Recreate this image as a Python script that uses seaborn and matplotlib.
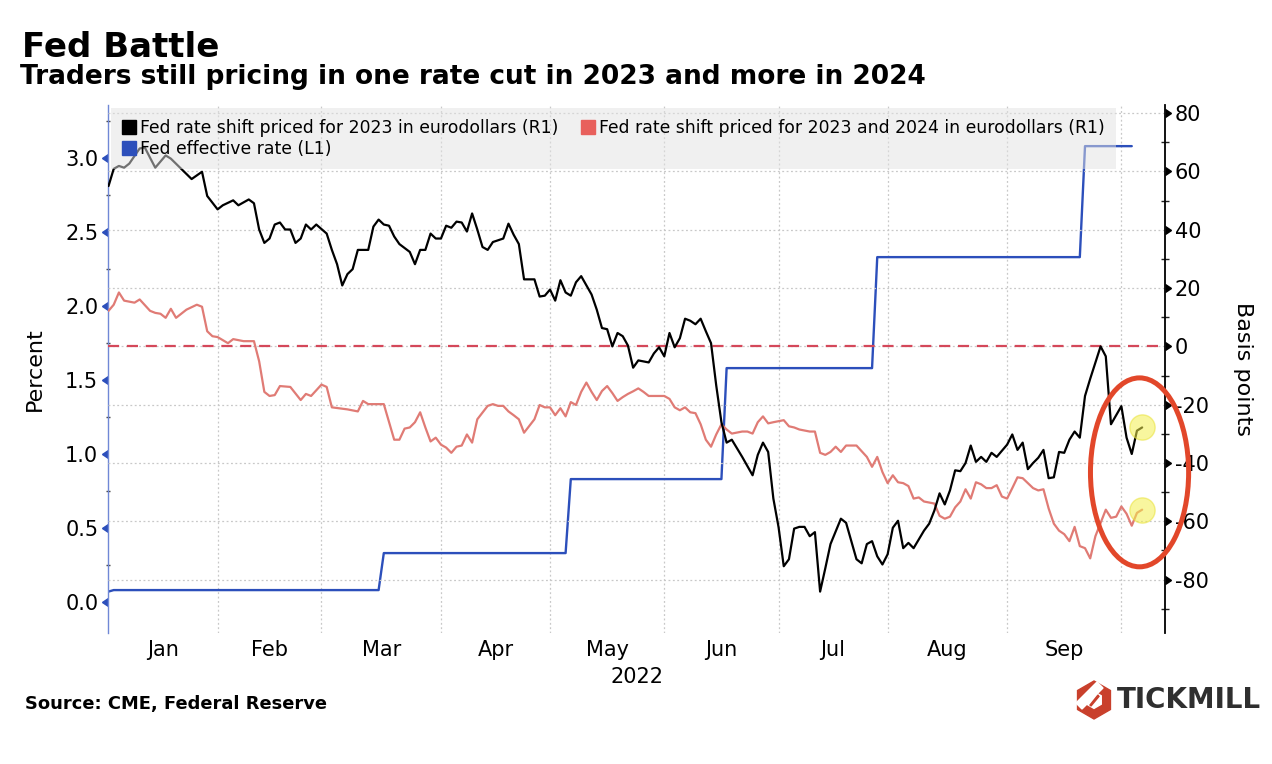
import numpy as np
import pandas as pd
import matplotlib
matplotlib.use("Agg")
import matplotlib.pyplot as plt
import matplotlib.markers as mmarkers
import seaborn as sns
from matplotlib.patches import Ellipse, RegularPolygon, Polygon
from matplotlib.lines import Line2D

# ---------------- data ----------------
START = "2022-01-03"  # first trading day shown; x = trading-day offset from START

black_day = [0, 1, 2, 3, 4, 6, 7, 8, 9, 11, 12, 14, 16, 18, 19, 21, 22, 24, 25, 27, 28, 29, 30, 31, 32,
             33, 34, 35, 36, 37, 38, 39, 40, 42, 43, 44, 45, 46, 47, 48, 50, 51, 52, 53, 54, 55, 56, 58,
             59, 60, 61, 62, 63, 64, 65, 66, 67, 68, 69, 70, 71, 72, 73, 74, 76, 77, 78, 79, 80, 82, 83,
             84, 85, 86, 87, 88, 89, 90, 91, 93, 94, 95, 96, 97, 98, 99, 100, 101, 102, 104, 105, 106,
             107, 108, 109, 110, 111, 112, 113, 114, 115, 116, 117, 118, 119, 120, 122, 124, 125, 126,
             127, 128, 129, 130, 131, 132, 133, 134, 135, 136, 137, 138, 139, 141, 142, 143, 144, 145,
             146, 147, 148, 149, 150, 151, 152, 153, 154, 155, 157, 158, 159, 160, 161, 162, 163, 164,
             165, 166, 167, 168, 169, 170, 171, 172, 173, 174, 175, 176, 177, 178, 179, 180, 181, 182,
             183, 184, 185, 186, 187, 188, 189, 191, 192, 193, 194, 195, 196, 197, 198, 199]
black_bp = [55.0, 60.9, 61.9, 61.3, 62.7, 67.9, 68.2, 64.7, 61.3, 65.5, 64.4, 60.9, 57.4, 59.9, 51.6,
            47.0, 48.4, 50.1, 48.4, 50.4, 49.1, 40.1, 35.5, 37.0, 41.8, 42.5, 40.1, 40.1, 35.5, 37.0,
            41.8, 40.1, 41.8, 38.7, 33.1, 28.2, 20.9, 24.8, 26.5, 33.1, 33.1, 41.1, 43.5, 41.8, 41.4,
            37.7, 35.1, 32.4, 28.2, 33.1, 33.1, 38.7, 37.0, 37.0, 41.4, 40.7, 42.8, 42.5, 39.4, 45.6,
            40.1, 34.1, 33.1, 35.8, 37.0, 42.1, 38.3, 35.1, 23.0, 23.0, 17.1, 17.4, 19.5, 15.7, 22.7,
            18.5, 17.4, 22.0, 24.1, 17.8, 12.6, 6.3, 5.9, 0.0, 4.6, 3.5, 0.3, -7.3, -4.8, -5.5, -2.4,
            -0.3, -3.4, 4.6, -0.3, 2.8, 9.5, 8.8, 7.6, 9.5, 5.2, 1.1, -13.4, -26.0, -33.0, -32.0,
            -37.9, -44.2, -37.2, -33.0, -36.2, -52.2, -62.0, -75.4, -73.0, -62.5, -61.9, -61.9, -65.1,
            -63.7, -84.1, -76.1, -67.8, -59.1, -60.5, -66.8, -73.0, -74.4, -67.8, -66.8, -72.0, -74.8,
            -71.3, -62.2, -59.8, -69.2, -67.4, -69.2, -63.2, -60.8, -56.3, -50.4, -54.2, -49.4, -42.5,
            -42.8, -40.0, -34.0, -39.6, -37.9, -39.6, -36.5, -37.9, -35.8, -33.7, -30.2, -35.5, -33.0,
            -42.1, -40.0, -38.2, -35.5, -45.2, -44.9, -36.2, -36.5, -32.0, -29.2, -31.3, -17.0, -11.1,
            0.0, -3.4, -26.7, -23.6, -20.5, -31.3, -36.9, -28.9, -27.8]

red_day = [0, 1, 2, 3, 5, 6, 8, 9, 10, 11, 12, 13, 15, 17, 18, 19, 20, 21, 23, 24, 26, 28, 29, 30, 31,
           32, 33, 35, 37, 38, 39, 41, 42, 43, 46, 48, 49, 50, 52, 53, 55, 56, 57, 58, 59, 60, 61, 62,
           63, 64, 65, 66, 67, 68, 69, 70, 71, 73, 74, 75, 76, 77, 78, 79, 80, 82, 83, 84, 85, 86, 87,
           88, 89, 90, 91, 92, 93, 94, 95, 96, 97, 98, 99, 100, 101, 102, 103, 104, 107, 108, 109, 110,
           111, 112, 113, 114, 115, 116, 117, 118, 119, 120, 122, 123, 124, 125, 126, 127, 128, 130,
           131, 132, 133, 135, 136, 137, 138, 139, 140, 141, 142, 144, 146, 147, 148, 149, 150, 151,
           152, 153, 154, 155, 156, 157, 159, 160, 161, 162, 163, 164, 165, 166, 167, 168, 169, 170,
           171, 172, 173, 174, 175, 176, 177, 178, 179, 180, 181, 182, 183, 184, 185, 186, 187, 188,
           189, 190, 192, 193, 194, 195, 196, 197, 198, 199]
red_bp = [12.2, 14.3, 18.5, 15.7, 15.0, 16.1, 12.2, 11.5, 11.2, 9.8, 12.9, 9.8, 12.6, 14.3, 13.6, 5.2,
          3.5, 3.2, 1.1, 2.5, 1.8, 1.8, -5.1, -15.6, -17.0, -16.7, -13.6, -13.9, -18.4, -16.3, -17.0,
          -13.1, -13.9, -20.9, -21.6, -22.3, -18.7, -19.8, -19.8, -19.8, -32.0, -32.0, -28.2, -27.8,
          -26.0, -22.6, -27.8, -32.6, -31.3, -33.7, -34.7, -36.5, -34.4, -34.0, -30.2, -33.0, -25.0,
          -20.4, -19.8, -20.4, -20.4, -22.3, -23.6, -25.0, -29.6, -25.0, -20.1, -20.9, -20.9, -23.6,
          -21.2, -24.0, -19.1, -20.1, -15.6, -12.4, -15.6, -18.4, -15.3, -13.6, -16.0, -18.7, -17.4,
          -16.3, -15.4, -14.4, -15.6, -17.0, -17.0, -18.0, -20.9, -21.9, -20.9, -22.6, -22.9, -26.7,
          -32.0, -34.4, -30.2, -26.7, -28.5, -29.9, -29.2, -29.2, -29.9, -26.0, -24.0, -26.4, -26.0,
          -25.3, -27.4, -27.8, -28.5, -29.2, -29.2, -36.5, -37.2, -36.2, -34.4, -36.2, -34.0, -34.0,
          -37.9, -41.3, -37.9, -43.1, -46.9, -44.2, -46.6, -46.9, -47.9, -52.2, -51.8, -53.2, -53.9,
          -58.1, -59.1, -58.4, -55.2, -53.2, -49.0, -52.2, -46.6, -47.3, -48.6, -48.6, -47.6, -51.5,
          -52.2, -48.6, -44.9, -45.2, -46.9, -48.6, -49.4, -49.0, -55.6, -60.8, -63.2, -64.4, -66.8,
          -61.9, -68.5, -69.2, -72.7, -65.1, -56.0, -58.8, -58.4, -54.9, -57.4, -61.5, -57.1, -56.0]

effr_day = [0, 1, 52, 53, 88, 89, 118, 119, 147, 148, 187, 188, 197]
effr_pct = [0.07, 0.08, 0.08, 0.33, 0.33, 0.83, 0.83, 1.58, 1.58, 2.33, 2.33, 3.08, 3.08]

month_names = ["Jan", "Feb", "Mar", "Apr", "May", "Jun", "Jul", "Aug", "Sep"]
left_ticks = [0.0, 0.5, 1.0, 1.5, 2.0, 2.5, 3.0]
right_ticks = [-80, -60, -40, -20, 0, 20, 40, 60, 80]

label_black = "Fed rate shift priced for 2023 in eurodollars (R1)"
label_red = "Fed rate shift priced for 2023 and 2024 in eurodollars (R1)"
label_blue = "Fed effective rate (L1)"

# ---------------- style ----------------
sns.set_theme(style="white")
plt.rcParams["font.family"] = ["DejaVu Sans"]
for k in ("text.color", "axes.labelcolor", "xtick.color", "ytick.color"):
    plt.rcParams[k] = "black"

C_BLACK = "#000000"
C_RED = "#e07b75"
C_BLUE = "#2c4fbb"
C_DASH = "#d4485a"
C_GRID = "#c8c8c8"

W, H = 1272, 764
fig = plt.figure(figsize=(W / 100, H / 100), dpi=100)
fig.patch.set_facecolor("white")
L, R, T, B = 108, 1165, 105, 633
ax1 = fig.add_axes([L / W, 1 - B / H, (R - L) / W, (B - T) / H])
ax2 = ax1.twinx()

df_black = pd.DataFrame({"day": black_day, "bp": black_bp})
df_red = pd.DataFrame({"day": red_day, "bp": red_bp})
df_effr = pd.DataFrame({"day": effr_day, "pct": effr_pct})

sns.lineplot(data=df_effr, x="day", y="pct", ax=ax1, color=C_BLUE, lw=1.7, legend=False)
ax2.axhline(0, color=C_DASH, lw=1.6, ls=(0, (5, 3.5)), zorder=2)
sns.lineplot(data=df_red, x="day", y="bp", ax=ax2, color=C_RED, lw=1.6, legend=False, zorder=3)
sns.lineplot(data=df_black, x="day", y="bp", ax=ax2, color=C_BLACK, lw=1.6, legend=False, zorder=4)

# highlight markers at line ends
ax2.scatter([black_day[-1], red_day[-1]], [black_bp[-1], red_bp[-1]], s=330,
            color="#f3ef4f", alpha=0.55, edgecolor="#e9e23a", lw=1.0, zorder=5)
# red annotation ellipse around the latest readings
ell = Ellipse((198.5, -43.2), 18.9, 64.8, fill=False, edgecolor="#e2472a", lw=3.6,
              zorder=6, clip_on=False)
ax2.add_patch(ell)

# ---------------- axes ----------------
dates = pd.bdate_range(START, periods=215)
xmin, xmax = -0.1, 203.4
starts = [0] + [i for i in range(1, len(dates)) if dates[i].month != dates[i - 1].month]
mids = [(starts[i] + starts[i + 1]) / 2 for i in range(len(month_names))]

ax1.set_xlim(xmin, xmax)
ax1.set_xticks([s for s in starts[1:] if s < xmax])
ax1.set_xticklabels([])
ax1.set_xticks(mids, minor=True)
ax1.set_xticklabels(month_names, minor=True, fontsize=15)
ax1.tick_params(axis="x", which="both", length=0, pad=5)
ax1.set_xlabel("2022", fontsize=15, labelpad=5)

ax1.set_ylim(-0.21, 3.358)
ax1.set_yticks(left_ticks)
ax1.set_yticklabels([f"{v:.1f}" for v in left_ticks], fontsize=15)
ax1.set_yticks([0.25, 0.75, 1.25, 1.75, 2.25, 2.75, 3.25], minor=True)
ax1.tick_params(axis="y", which="major", length=5, width=1, color=C_BLUE, pad=2, left=True)
ax1.tick_params(axis="y", which="minor", length=3, width=1, color="#444444", direction="inout", left=True)
ax1.set_ylabel("Percent", fontsize=16)
ax1.yaxis.set_label_coords(-0.0596, 0.5)

ax2.set_ylim(-98.3, 82.8)
ax2.set_yticks(right_ticks)
ax2.set_yticklabels([str(v) for v in right_ticks], fontsize=15)
ax2.set_yticks(list(range(-90, 81, 20)), minor=True)
ax2.tick_params(axis="y", which="major", length=5, width=1, color="black", pad=2, right=True)
ax2.tick_params(axis="y", which="minor", length=6, width=1, color="#222222", direction="inout", right=True)
ax2.set_ylabel("Basis points", fontsize=16, rotation=270, va="bottom")
ax2.yaxis.set_label_coords(1.064, 0.5)

# grids
ax1.grid(True, axis="x", which="major", ls=(0, (1.5, 2)), color=C_GRID, lw=0.9)
ax1.grid(False, axis="y")
ax2.grid(True, axis="y", which="major", ls=(0, (1.5, 2)), color=C_GRID, lw=0.9)
ax2.grid(False, axis="x")
ax2.set_axisbelow(True)

for a in (ax1, ax2):
    a.spines["top"].set_visible(False)
    a.spines["bottom"].set_visible(False)
    a.set_facecolor("none")
ax1.set_facecolor("white")
ax1.spines["right"].set_visible(False)
ax2.spines["left"].set_visible(False)
ax1.spines["left"].set_color("#7088d6")
ax1.spines["left"].set_linewidth(1.0)
ax2.spines["right"].set_color("black")
ax2.spines["right"].set_linewidth(1.3)

# caret-shaped major tick marks pointing outwards
for t in ax1.yaxis.get_major_ticks():
    t.tick1line.set_marker(mmarkers.CARETLEFTBASE)
    t.tick1line.set_markersize(6)
for t in ax2.yaxis.get_major_ticks():
    t.tick2line.set_marker(mmarkers.CARETRIGHTBASE)
    t.tick2line.set_markersize(6)

# ---------------- legend ----------------
handles = [
    Line2D([], [], ls="none", marker="s", markersize=10, color=C_BLACK),
    Line2D([], [], ls="none", marker="s", markersize=10, color=C_BLUE),
    Line2D([], [], ls="none", marker="s", markersize=10, color="#e8605c"),
]
leg = ax2.legend(handles, [label_black, label_blue, label_red], ncol=2, loc="upper left",
                 bbox_to_anchor=(0.0, 1.0), fontsize=12.4, frameon=True, fancybox=False,
                 facecolor="#e2e2e2", edgecolor="none", framealpha=0.5, handlelength=0.8,
                 handletextpad=0.25, columnspacing=1.3, labelspacing=0.2, borderpad=0.65,
                 borderaxespad=0.15)
leg.set_zorder(10)

# ---------------- titles & footer ----------------
fig.text(22 / W, 1 - 57 / H, "Fed Battle", fontsize=24.5, fontweight="bold", va="baseline")
fig.text(20 / W, 1 - 84 / H, "Traders still pricing in one rate cut in 2023 and more in 2024",
         fontsize=19, fontweight="bold", va="baseline")
fig.text(25 / W, 1 - 704 / H, "Source: CME, Federal Reserve", fontsize=12.9, fontweight="bold",
         va="center")

# Tickmill logo
lax = fig.add_axes([1074 / W, 1 - 720 / H, 40 / W, 40 / H])
lax.set_xlim(-1, 1)
lax.set_ylim(-1, 1)
lax.set_aspect("equal")
lax.axis("off")
lax.add_patch(RegularPolygon((0, 0), 6, radius=0.95, orientation=0, color="#c9402c"))
lax.add_patch(RegularPolygon((0, 0), 6, radius=0.42, orientation=0, color="white"))
lax.add_patch(Polygon([(-0.9, -0.15), (0.15, 0.9), (0.45, 0.6), (-0.6, -0.45)], closed=True,
                      color="white"))
lax.add_patch(Polygon([(-0.2, -0.25), (0.2, 0.25), (0.25, 0.18), (-0.15, -0.3)], closed=True,
                      color="#c9402c"))
fig.text(1117 / W, 1 - 700 / H, "TICKMILL", fontsize=20, fontweight="bold", color="#2f2f2f",
         va="center")

fig.savefig("out.png", dpi=100, facecolor="white")
